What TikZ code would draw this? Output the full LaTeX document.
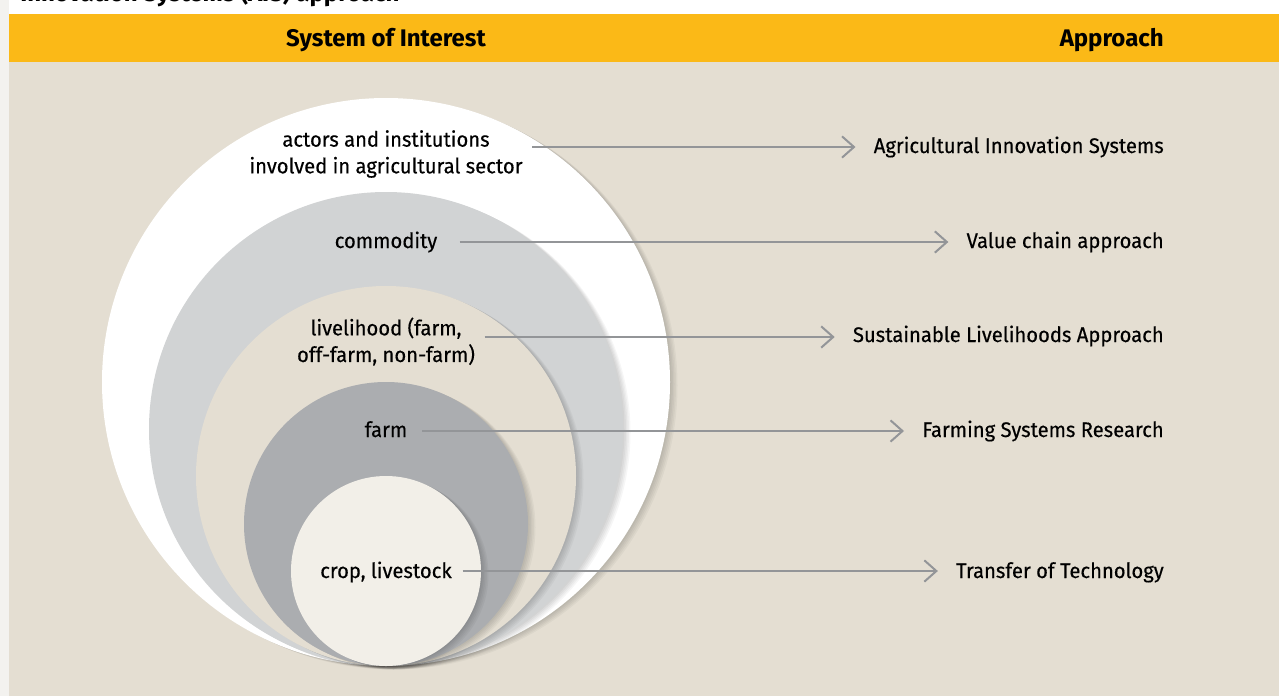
\documentclass[tikz,border=0pt]{standalone}
\usepackage{fontspec}
\setmainfont{Fira Sans}
\newfontfamily\lblfont{Fira Sans}[FakeStretch=0.96, FakeBold=0.4]
\usepackage{tikz}
\usetikzlibrary{arrows.meta, positioning, calc}
\definecolor{bandorange}{HTML}{FBB917}
\definecolor{bgbeige}{HTML}{E4DED2}
\definecolor{stripgray}{HTML}{F3F2EF}
\definecolor{commgray}{HTML}{D1D3D4}
\definecolor{farmgray}{HTML}{ABADB0}
\definecolor{cropcream}{HTML}{F2EFE8}
\definecolor{arrowgray}{HTML}{939598}

\begin{document}
\begin{tikzpicture}[x=0.75pt, y=-0.75pt,
	lbl/.style={inner sep=0pt, font=\lblfont\fontsize{15.8}{20}\selectfont, align=center},
	appr/.style={lbl, anchor=base east},
	head/.style={inner sep=0pt, font=\fontsize{18}{22}\selectfont\bfseries},
	arr/.style={draw=arrowgray, line width=1.5pt, -{Straight Barb[length=9pt, width=16pt]}, shorten >=13.5pt, shorten <=7pt}]
	\useasboundingbox (0,0) rectangle (1279,696);
	\clip (0,0) rectangle (1279,696);
	
	% background and header band
	\fill[white] (0,0) rectangle (1279,14);
	\fill[bgbeige] (0,62) rectangle (1279,696);
	\fill[bandorange] (9,14) rectangle (1279,62);
	\fill[stripgray] (0,0) rectangle (9,696);
	\node[head, anchor=base west] (title) at (20,2) {Innovation Systems (AIS) approach};
	\node[head, anchor=base] (soi) at (386,46.5) {System of Interest};
	\node[head, anchor=base east] (approach) at (1164,46.5) {Approach};
	
	% nested circles, all touching at the bottom
	\pgfmathsetmacro{\cx}{386}
	\pgfmathsetmacro{\by}{666}
	\foreach \r/\col in {284/white, 237/commgray, 190/bgbeige, 142/farmgray, 95/cropcream} {
		\foreach \s in {1,...,5}
			\fill[black, opacity=0.035] (\cx+\s*1.5, \by-\r+\s*0.7) circle (\r);
		\fill[\col] (\cx, \by-\r) circle (\r);
	}
	
	% systems of interest
	\node[lbl] (actors) at (386,154) {actors and institutions\\involved in agricultural sector};
	\node[lbl, anchor=base] (commodity) at (386,248) {commodity};
	\node[lbl] (livelihood) at (386,341.5) {livelihood (farm,\\off-farm, non-farm)};
	\node[lbl, anchor=base] (farm) at (386,437) {farm};
	\node[lbl, anchor=base] (crop) at (386,578) {crop, livestock};
	
	% approaches
	\node[appr] (ais) at (1164,153) {Agricultural Innovation Systems};
	\node[appr] (vca) at (1164,248) {Value chain approach};
	\node[appr] (sla) at (1164,342) {Sustainable Livelihoods Approach};
	\node[appr] (fsr) at (1164,437) {Farming Systems Research};
	\node[appr] (tot) at (1164,578) {Transfer of Technology};
	
	\draw[arr] ($(actors.east |- ais.base)+(0,-6)$) -- ($(ais.base west)+(0,-6)$);
	\draw[arr, shorten <=16.5pt] ($(commodity.base east)+(0,-6)$) -- ($(vca.base west)+(0,-6)$);
	\draw[arr] ($(livelihood.east |- sla.base)+(0,-5)$) -- ($(sla.base west)+(0,-5)$);
	\draw[arr, shorten <=11pt] ($(farm.base east)+(0,-6)$) -- ($(fsr.base west)+(0,-6)$);
	\draw[arr, shorten <=8pt] ($(crop.base east)+(0,-7)$) -- ($(tot.base west)+(0,-7)$);
\end{tikzpicture}
\end{document}
